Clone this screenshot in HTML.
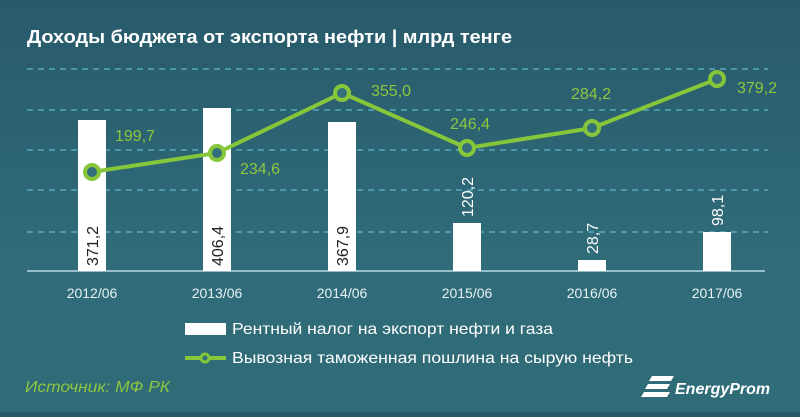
<!DOCTYPE html>
<html><head><meta charset="utf-8"><style>
html,body{margin:0;padding:0}
body{width:800px;height:412px;overflow:hidden;background:linear-gradient(#285a6a,#2f6b79 60%,#306b78);font-family:"Liberation Sans",sans-serif}
</style></head><body>
<svg width="800" height="412" xmlns="http://www.w3.org/2000/svg" font-family="Liberation Sans, sans-serif">
<text x="27" y="43" fill="#fff" font-size="18" font-weight="bold" textLength="485" lengthAdjust="spacingAndGlyphs">Доходы бюджета от экспорта нефти | млрд тенге</text>
<g stroke="#5fb6cc" stroke-width="1.2" stroke-dasharray="6,5">
<line x1="27" y1="69" x2="768" y2="69"/><line x1="27" y1="110" x2="768" y2="110"/>
<line x1="27" y1="150" x2="768" y2="150"/><line x1="27" y1="190" x2="768" y2="190"/>
<line x1="27" y1="232" x2="768" y2="232"/>
</g>
<line x1="27" y1="271" x2="765" y2="271" stroke="#b8dbe6" stroke-width="1.5"/>
<g fill="#fff">
<rect x="78" y="120" width="28" height="151"/><rect x="203" y="108" width="28" height="163"/>
<rect x="328" y="122" width="28" height="149"/><rect x="453" y="223" width="28" height="48"/>
<rect x="578" y="260" width="28" height="11"/><rect x="703" y="232" width="28" height="39"/>
</g>
<g font-size="16">
<text transform="translate(98,266) rotate(-90)" fill="#222">371,2</text>
<text transform="translate(223,266) rotate(-90)" fill="#222">406,4</text>
<text transform="translate(348,266) rotate(-90)" fill="#222">367,9</text>
<text transform="translate(473,217) rotate(-90)" fill="#fff">120,2</text>
<text transform="translate(598,254) rotate(-90)" fill="#fff">28,7</text>
<text transform="translate(723,226) rotate(-90)" fill="#fff">98,1</text>
</g>
<polyline points="92,172 217,153 342,93 467,148 592,128 717,79" fill="none" stroke="#86c63a" stroke-width="4"/>
<g fill="#356f7c" stroke="#86c63a" stroke-width="4">
<circle cx="92" cy="172" r="7"/><circle cx="217" cy="153" r="7"/><circle cx="342" cy="93" r="7"/>
<circle cx="467" cy="148" r="7"/><circle cx="592" cy="128" r="7"/><circle cx="717" cy="79" r="7"/>
</g>
<g fill="#8dc63f" font-size="16">
<text x="115" y="141">199,7</text><text x="240" y="174">234,6</text><text x="371" y="96">355,0</text>
<text x="450" y="129">246,4</text><text x="571" y="99">284,2</text><text x="737" y="93">379,2</text>
</g>
<g fill="#e6f0f3" font-size="14" text-anchor="middle">
<text x="92" y="298">2012/06</text><text x="217" y="298">2013/06</text><text x="342" y="298">2014/06</text>
<text x="467" y="298">2015/06</text><text x="592" y="298">2016/06</text><text x="717" y="298">2017/06</text>
</g>
<rect x="185" y="323" width="41" height="12" fill="#fff"/>
<text x="232" y="334" fill="#fff" font-size="16" textLength="321" lengthAdjust="spacingAndGlyphs">Рентный налог на экспорт нефти и газа</text>
<line x1="185" y1="358" x2="226" y2="358" stroke="#86c63a" stroke-width="4"/>
<circle cx="205" cy="358" r="4" fill="#356f7c" stroke="#86c63a" stroke-width="3"/>
<text x="232" y="363" fill="#fff" font-size="16" textLength="401" lengthAdjust="spacingAndGlyphs">Вывозная таможенная пошлина на сырую нефть</text>
<text x="25" y="392" fill="#8dc63f" font-size="16" font-style="italic" textLength="145" lengthAdjust="spacingAndGlyphs">Источник: МФ РК</text>
<g fill="#fff"><path d="M652 376h22l-3 5h-22zM648 384h22l-3 5h-22zM644 392h26l-3 5h-26z"/></g>
<text x="675" y="394" fill="#fff" font-size="16" font-weight="bold" font-style="italic">EnergyProm</text>
</svg>
</body></html>
